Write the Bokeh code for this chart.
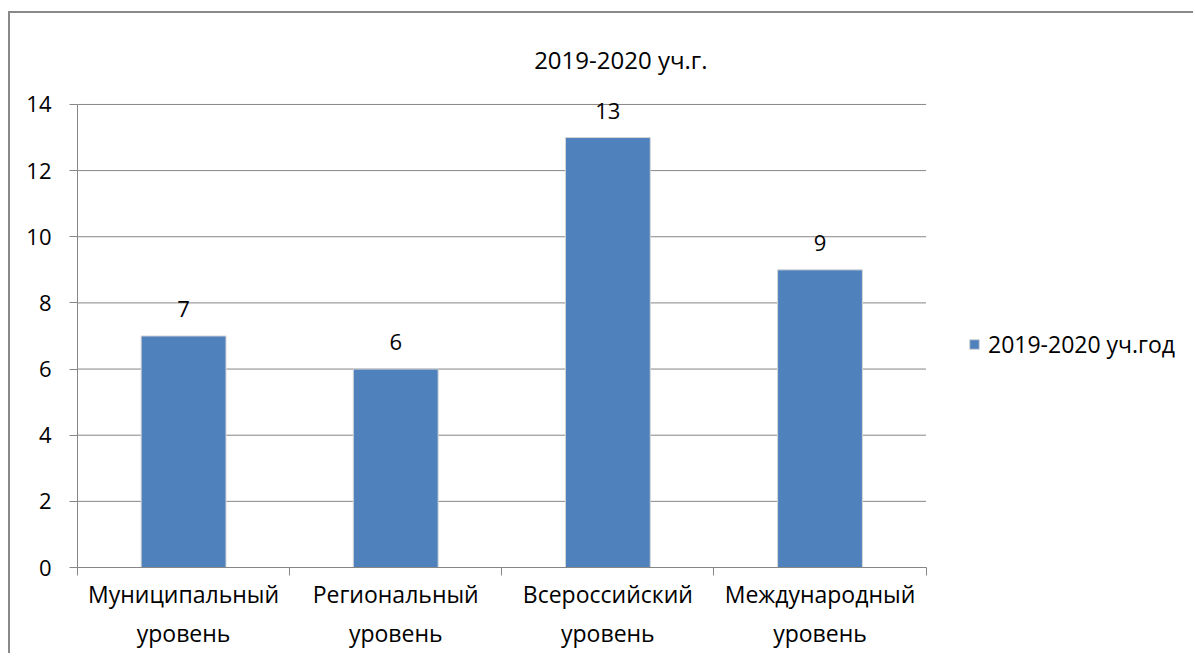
from bokeh.plotting import figure
from bokeh.models import (Range1d, FixedTicker, ColumnDataSource, LabelSet, Label,
                          Legend, LegendItem)
from bokeh.core.properties import value
from bokeh.embed import file_html
from bokeh.resources import INLINE

# ---- data ----
categories = ["Муниципальный\nуровень", "Региональный\nуровень",
              "Всероссийский\nуровень", "Международный\nуровень"]
values = [7, 6, 13, 9]
series_name = "2019-2020 уч.год"
chart_title = "2019-2020 уч.г."
y_ticks = [0, 2, 4, 6, 8, 10, 12, 14]

FONT = "Open Sans"
GRID = "#868686"
BAR = "#4F81BD"

n = len(categories)
xs = [i + 0.5 for i in range(n)]
bounds = list(range(n + 1))
y_top = y_ticks[-1]

src = ColumnDataSource(dict(x=xs, top=values, lab=[str(v) for v in values]))
grid_src = ColumnDataSource(dict(y=y_ticks, x0=[0] * len(y_ticks), x1=[n] * len(y_ticks)))

# the plot area also holds the title and legend (extra room right of / above the axes)
p = figure(width=1185, height=642, output_backend="svg", toolbar_location=None,
           title=None, tools="",
           x_range=Range1d(0, 5.27), y_range=Range1d(0, 16.75),
           min_border_left=67, min_border_top=0, min_border_right=0, min_border_bottom=88)
p.styles = {"border-top": "2px solid #898989", "border-left": "2px solid #898989",
            "margin-top": "11px", "margin-left": "8px"}
p.outline_line_color = None
p.background_fill_color = "white"
p.border_fill_color = "white"
p.xgrid.visible = False
p.ygrid.visible = False

# gridlines over the category span only
p.segment(x0="x0", x1="x1", y0="y", y1="y", source=grid_src, line_color=GRID, line_width=1)

bars = p.vbar(x="x", top="top", width=0.4, source=src, fill_color=BAR,
              line_color="#d6d6d6", line_width=1)

# axes
p.xaxis.bounds = (0, n)
p.xaxis.ticker = FixedTicker(ticks=xs, minor_ticks=bounds)
p.xaxis.major_label_overrides = {x: c for x, c in zip(xs, categories)}
p.xaxis.major_tick_out = 0
p.xaxis.major_tick_in = 0
p.xaxis.minor_tick_out = 8
p.xaxis.minor_tick_in = 0
p.xaxis.minor_tick_line_color = GRID
p.xaxis.axis_line_color = GRID
p.xaxis.major_label_standoff = 2
p.xaxis.major_label_text_font = FONT
p.xaxis.major_label_text_font_size = "23px"
p.xaxis.major_label_text_color = "black"
p.xaxis.major_label_text_line_height = 1.24

p.yaxis.bounds = (y_ticks[0], y_top)
p.yaxis.ticker = FixedTicker(ticks=y_ticks, minor_ticks=[])
p.yaxis.major_tick_out = 8
p.yaxis.major_tick_in = 0
p.yaxis.major_tick_line_color = GRID
p.yaxis.axis_line_color = GRID
p.yaxis.major_label_standoff = 18
p.yaxis.major_label_text_font = FONT
p.yaxis.major_label_text_font_size = "22px"
p.yaxis.major_label_text_color = "black"

# data labels
p.add_layout(LabelSet(x="x", y="top", text="lab", source=src, text_align="center",
                      text_baseline="alphabetic", y_offset=19, text_font=value(FONT),
                      text_font_size=value("22px"), text_color="black"))

# title
p.add_layout(Label(x=n / 2, y=y_top, x_offset=119, y_offset=45, text=chart_title,
                   text_align="center", text_baseline="middle", text_font=FONT,
                   text_font_size="24px", text_color="black"))

# legend
legend = Legend(items=[LegendItem(label=series_name, renderers=[bars])],
                location=(891, 207), glyph_width=12, glyph_height=12, label_standoff=8,
                padding=0, margin=0, spacing=0, border_line_color=None,
                background_fill_alpha=0, label_text_font=FONT,
                label_text_font_size="23px", label_text_color="black")
p.add_layout(legend)

open("out.html", "w").write(file_html(p, INLINE))
